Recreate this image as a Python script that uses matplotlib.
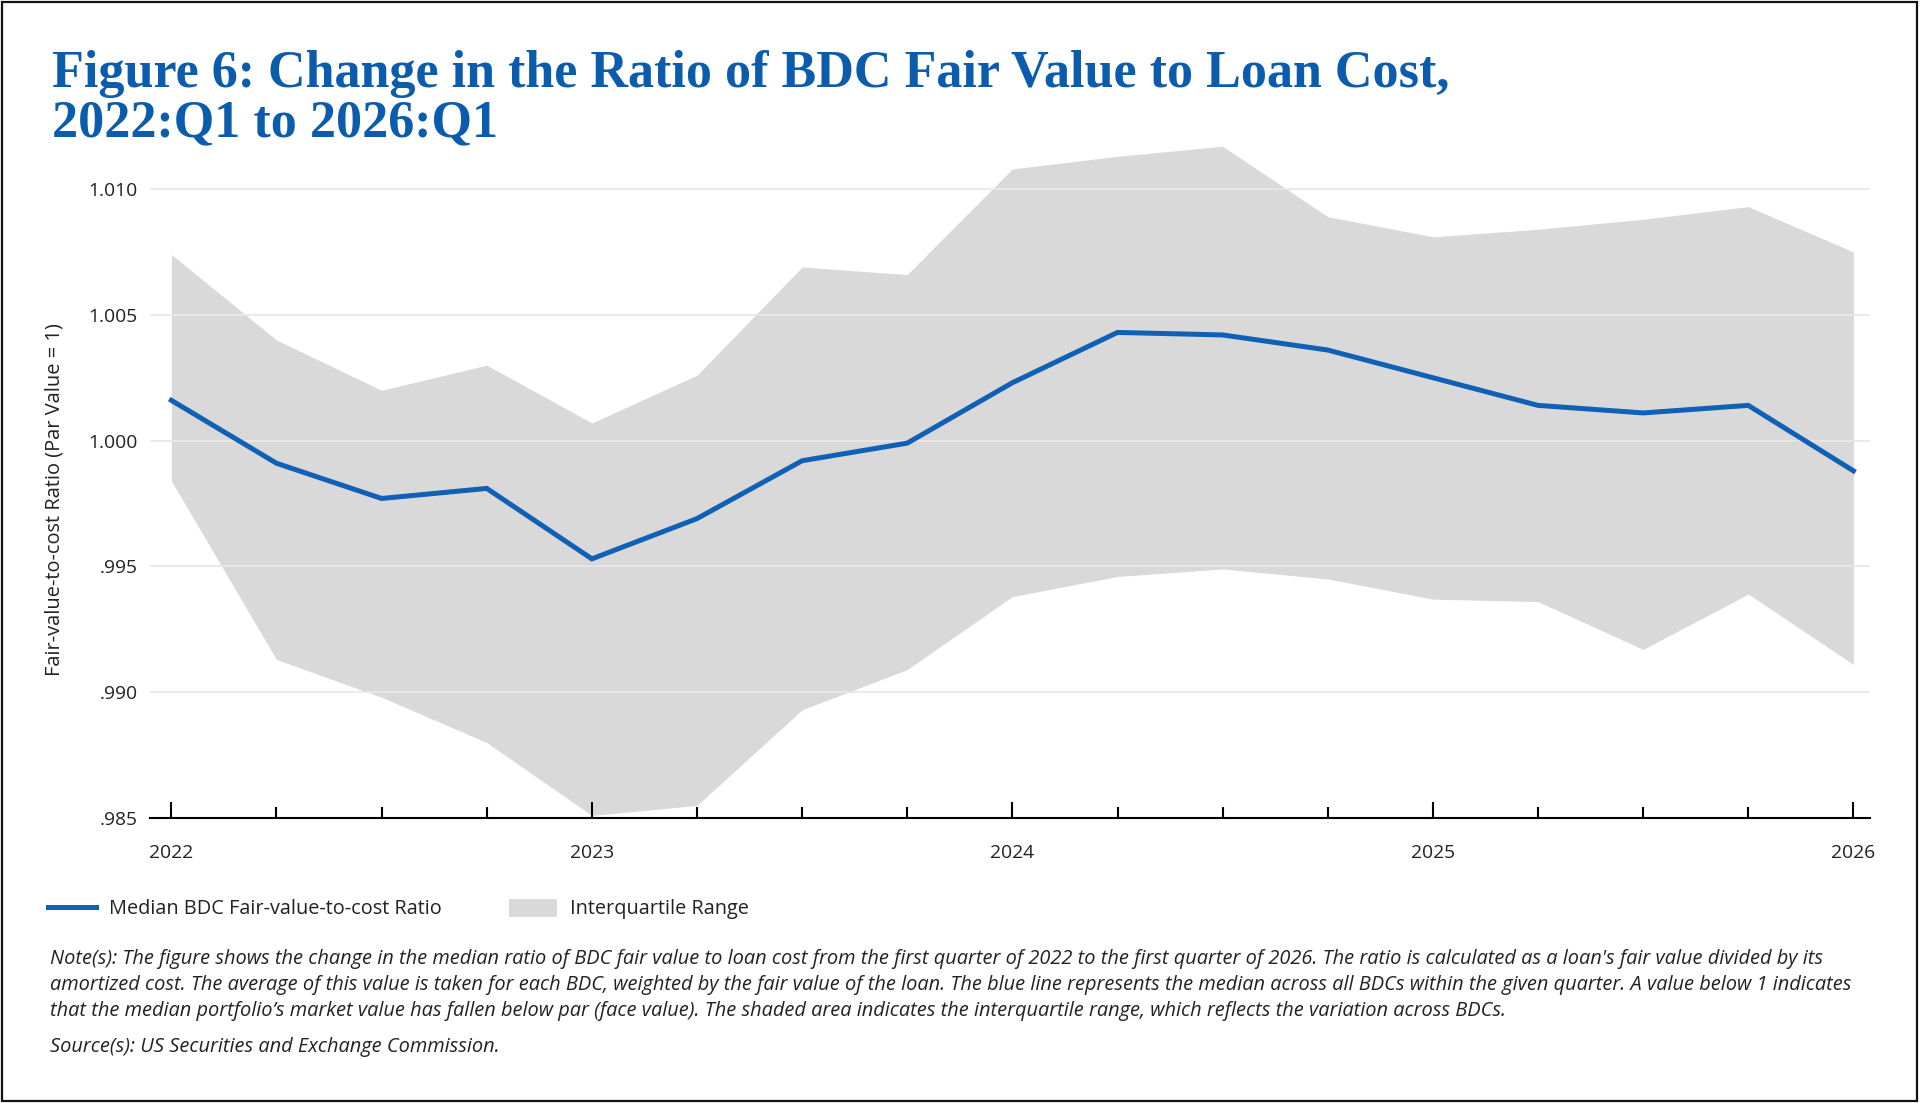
import matplotlib
matplotlib.use("Agg")
import matplotlib.pyplot as plt
from matplotlib.patches import Rectangle, Patch
from matplotlib.lines import Line2D

# ---------------- data ----------------
quarters = list(range(17))  # 2022:Q1 ... 2026:Q1
year_ticks = [0, 4, 8, 12, 16]
year_labels = ["2022", "2023", "2024", "2025", "2026"]

median = [1.0016, 0.9991, 0.9977, 0.9981, 0.9953, 0.9969, 0.9992, 0.9999,
          1.0023, 1.0043, 1.0042, 1.0036, 1.0025, 1.0014, 1.0011, 1.0014, 0.9988]
upper = [1.0074, 1.0040, 1.0020, 1.0030, 1.0007, 1.0026, 1.0069, 1.0066,
         1.0108, 1.0113, 1.0117, 1.0089, 1.0081, 1.0084, 1.0088, 1.0093, 1.0075]
lower = [0.9984, 0.9913, 0.9898, 0.9880, 0.9851, 0.9855, 0.9893, 0.9909,
         0.9938, 0.9946, 0.9949, 0.9945, 0.9937, 0.9936, 0.9917, 0.9939, 0.9911]

y_ticks = [0.985, 0.990, 0.995, 1.000, 1.005, 1.010]
y_tick_labels = [".985", ".990", ".995", "1.000", "1.005", "1.010"]
grid_values = [0.990, 0.995, 1.000, 1.005, 1.010]

title_lines = ["Figure 6: Change in the Ratio of BDC Fair Value to Loan Cost,",
               "2022:Q1 to 2026:Q1"]
y_label = "Fair-value-to-cost Ratio (Par Value = 1)"
legend_labels = ["Median BDC Fair-value-to-cost Ratio", "Interquartile Range"]
note_lines = [
    "Note(s): The figure shows the change in the median ratio of BDC fair value to loan cost from the first quarter of 2022 to the first quarter of 2026. The ratio is calculated as a loan's fair value divided by its",
    "amortized cost. The average of this value is taken for each BDC, weighted by the fair value of the loan. The blue line represents the median across all BDCs within the given quarter. A value below 1 indicates",
    "that the median portfolio\u2019s market value has fallen below par (face value). The shaded area indicates the interquartile range, which reflects the variation across BDCs.",
]
source_line = "Source(s): US Securities and Exchange Commission."

# ---------------- style ----------------
BLUE_TITLE = "#0b5cad"
BLUE_LINE = "#1060b5"
FILL = "#d9d9d9"
GRID = "#e8e8e8"
TEXT = "#222222"
SANS = ["Open Sans", "DejaVu Sans"]
SERIF = ["Liberation Serif", "DejaVu Serif"]

W, H = 1920, 1103
fig = plt.figure(figsize=(W / 100, H / 100), dpi=100)
renderer = fig.canvas.get_renderer()


def X(px):
    return px / W


def Y(py):
    return 1 - py / H


def fit_size(s, target_px, base=20, **kw):
    t = fig.text(0, 0, s, fontsize=base, **kw)
    w = t.get_window_extent(renderer).width
    t.remove()
    return base * target_px / w


# ---------------- title ----------------
fs_title = fit_size(title_lines[0], 1400, family=SERIF, weight="bold")
fig.text(X(52), Y(87), title_lines[0], fontsize=fs_title, family=SERIF,
         weight="bold", color=BLUE_TITLE, ha="left", va="baseline")
fig.text(X(52), Y(136), title_lines[1], fontsize=fs_title, family=SERIF,
         weight="bold", color=BLUE_TITLE, ha="left", va="baseline")

# ---------------- axes ----------------
ax_l, ax_r, ax_t, ax_b = 149.5, 1870, 138.7, 818
ax = fig.add_axes([X(ax_l), Y(ax_b), (ax_r - ax_l) / W, (ax_b - ax_t) / H])
ax.set_facecolor("white")

ax.fill_between(quarters, lower, upper, color=FILL, linewidth=0, zorder=1)
for g in grid_values:
    ax.axhline(g, color=GRID, linewidth=1.3, zorder=1.5)
ax.plot(quarters, median, color=BLUE_LINE, linewidth=3.6, zorder=3,
        solid_joinstyle="miter")

ax.set_xlim(-0.208, 16.158)
ax.set_ylim(0.985, 1.012)

for side in ["top", "right", "left"]:
    ax.spines[side].set_visible(False)
ax.spines["bottom"].set_linewidth(1.5)
ax.spines["bottom"].set_color("black")
ax.spines["bottom"].set_zorder(4)

fs_tick = fit_size("1.010", 49, family=SANS)
ax.set_yticks(y_ticks)
ax.set_yticklabels(y_tick_labels, fontsize=fs_tick, family=SANS, color=TEXT)
ax.tick_params(axis="y", length=0, pad=8.5)

ax.set_xticks(year_ticks)
ax.set_xticklabels(year_labels, fontsize=fs_tick, family=SANS, color=TEXT)
ax.set_xticks([q for q in quarters if q not in year_ticks], minor=True)
ax.tick_params(axis="x", which="major", direction="in", length=11.5,
               width=1.5, color="black", pad=19)
ax.tick_params(axis="x", which="minor", direction="in", length=7.7,
               width=1.5, color="black")
for t in ax.xaxis.get_major_ticks() + ax.xaxis.get_minor_ticks():
    t.tick1line.set_zorder(4)

# y label
fs_ylab = fit_size(y_label, 352, family=SANS)
fig.text(X(55), Y(500), y_label, fontsize=fs_ylab, family=SANS, color=TEXT,
         rotation=90, ha="center", va="center")

# ---------------- legend ----------------
fs_leg = fit_size(legend_labels[0], 333, family=SANS)
fs_leg_px = fs_leg * 100 / 72
handles = [Line2D([], [], color=BLUE_LINE, linewidth=3.6),
           Patch(facecolor=FILL, edgecolor="none")]
fig.legend(handles, legend_labels, loc="center left",
           bbox_to_anchor=(X(48), Y(909)), ncol=2, frameon=False,
           prop={"family": SANS, "size": fs_leg},
           handlelength=48 / fs_leg_px, handleheight=20 / fs_leg_px,
           handletextpad=13 / fs_leg_px, columnspacing=67 / fs_leg_px,
           borderpad=0, borderaxespad=0, labelcolor=TEXT)

# ---------------- notes ----------------
fs_note = fit_size(note_lines[0], 1770, family=SANS, style="italic")
for yb, line in zip([964, 990, 1016], note_lines):
    fig.text(X(50), Y(yb), line, fontsize=fs_note, family=SANS,
             style="italic", color=TEXT, ha="left", va="baseline")
fig.text(X(50), Y(1052), source_line, fontsize=fs_note, family=SANS,
         style="italic", color=TEXT, ha="left", va="baseline")

# ---------------- frame ----------------
fig.patches.append(Rectangle((X(1.5), Y(1100.5)), (1917 - 1.5) / W,
                             (1100.5 - 1.5) / H, transform=fig.transFigure,
                             fill=False, edgecolor="#111111", linewidth=1.6))

fig.savefig("out.png", dpi=100, facecolor="white")
